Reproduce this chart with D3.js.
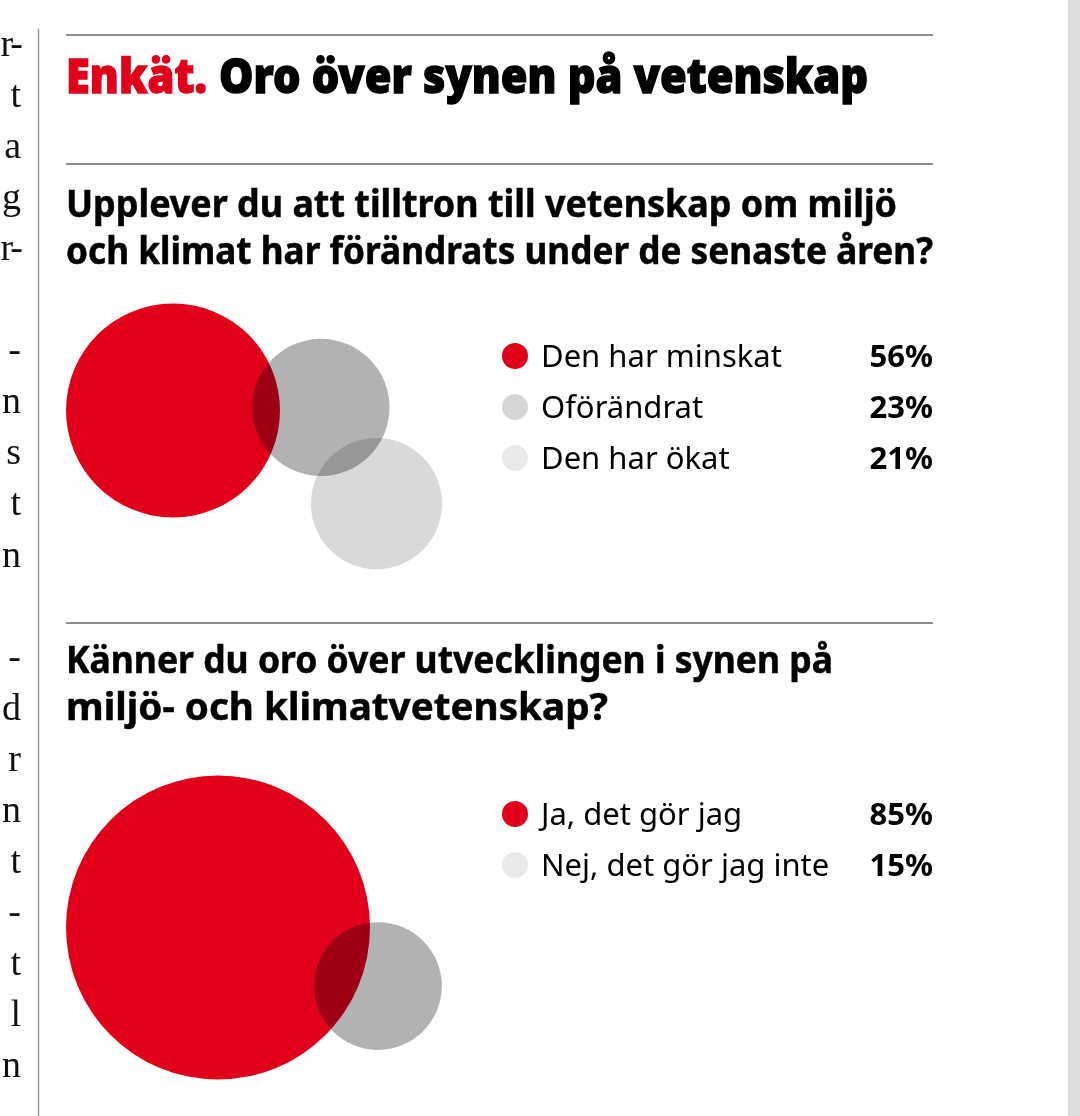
<!DOCTYPE html>
<html>
<head>
<meta charset="utf-8">
<script src="https://cdn.jsdelivr.net/npm/d3@7"></script>
<style>
  html, body { margin: 0; padding: 0; background: #fff; }
  svg { display: block; }
  .bubble { mix-blend-mode: multiply; }
</style>
</head>
<body>
<svg id="chart"></svg>
<script>
// survey data
const q1Labels = ["Den har minskat", "Oförändrat", "Den har ökat"];
const q1Values = [56, 23, 21];
const q1Bubble = ["#e1001a", "#b2b2b2", "#d9d9d9"];
const q1Dots = ["#e1001a", "#d6d6d6", "#e9e9e9"];

const q2Labels = ["Ja, det gör jag", "Nej, det gör jag inte"];
const q2Values = [85, 15];
const q2Bubble = ["#e1001a", "#b2b2b2"];
const q2Dots = ["#e1001a", "#e9e9e9"];

const titleRed = "Enkät.";
const titleBlack = "Oro över synen på vetenskap";
const q1Text = ["Upplever du att tilltron till vetenskap om miljö",
                "och klimat har förändrats under de senaste åren?"];
const q2Text = ["Känner du oro över utvecklingen i synen på",
                "miljö- och klimatvetenskap?"];

// cut-off end of the neighbouring text column
const sideLines = ["r-", "t", "a", "g", "r-", "", "-", "n", "s", "t", "n",
                   "", "-", "d", "r", "n", "t", "-", "t", "l", "n"];

const W = 1080, H = 1116;
const left = 66, right = 933;
const RED = "#e1001a";
const SANS = "'Noto Sans', 'Open Sans', sans-serif";

const svg = d3.select("#chart").attr("width", W).attr("height", H);

svg.append("rect").attr("width", W).attr("height", H).attr("fill", "#fff");

// right grey strip and left column divider
svg.append("rect").attr("x", 1068).attr("y", 0).attr("width", 12).attr("height", H).attr("fill", "#dddddd");
svg.append("line").attr("x1", 38.5).attr("x2", 38.5).attr("y1", 29).attr("y2", H)
  .attr("stroke", "#9c9c9c").attr("stroke-width", 1.5);

svg.append("g").selectAll("text").data(sideLines).enter().append("text")
  .attr("x", 21).attr("y", (d, i) => 56 + i * 51.05)
  .attr("text-anchor", "end")
  .style("font-family", "'Liberation Serif', 'DejaVu Serif', serif")
  .style("font-size", "38px")
  .style("letter-spacing", d => d.length > 1 ? "-2px" : "0px")
  .attr("fill", "#111")
  .text(d => d);

// horizontal rules
[35, 164, 623].forEach(y => {
  svg.append("line").attr("x1", left).attr("x2", right).attr("y1", y).attr("y2", y)
    .attr("stroke", "#8c8c8c").attr("stroke-width", 2);
});

function fitText(sel, w) {
  return sel.attr("textLength", w).attr("lengthAdjust", "spacingAndGlyphs");
}

// headline (heavy weight: bold plus a thin outline)
fitText(svg.append("text").attr("x", left).attr("y", 93)
  .style("font-family", SANS).style("font-weight", 900).style("font-size", "48px")
  .attr("fill", RED).attr("stroke", RED).attr("stroke-width", 1.4).text(titleRed), 141);
fitText(svg.append("text").attr("x", 219).attr("y", 93)
  .style("font-family", SANS).style("font-weight", 900).style("font-size", "48px")
  .attr("fill", "#000").attr("stroke", "#000").attr("stroke-width", 1.4).text(titleBlack), 649);

function question(lines, ys, widths) {
  lines.forEach((t, i) => {
    fitText(svg.append("text").attr("x", left).attr("y", ys[i])
      .style("font-family", SANS).style("font-weight", 700).style("font-size", "37px")
      .attr("fill", "#000").attr("stroke", "#000").attr("stroke-width", 0.5).text(t), widths[i]);
  });
}
question(q1Text, [217, 264], [831, 867]);
question(q2Text, [673, 720], [767, 542]);

// bubbles: sqrt scale per chart, each bubble placed next to the previous one
function bubbles(values, colors, rMax, cx0, cy0, angles, overlaps) {
  const r = d3.scaleSqrt().domain([0, d3.max(values)]).range([0, rMax]);
  const nodes = [];
  values.forEach((v, i) => {
    const rad = r(v);
    if (i === 0) {
      nodes.push({ x: cx0, y: cy0, r: rad, c: colors[i] });
    } else {
      const p = nodes[i - 1];
      const dist = p.r + rad - overlaps[i];
      const a = angles[i] * Math.PI / 180;
      nodes.push({ x: p.x + dist * Math.cos(a), y: p.y + dist * Math.sin(a), r: rad, c: colors[i] });
    }
  });
  const g = svg.append("g").style("isolation", "isolate");
  g.selectAll("circle").data(nodes).enter().append("circle")
    .attr("class", "bubble")
    .attr("cx", d => d.x).attr("cy", d => d.y).attr("r", d => d.r)
    .attr("fill", d => d.c);
}
bubbles(q1Values, q1Bubble, 107, left + 107, 410.5, [0, -1.2, 60], [0, 27.6, 23]);
bubbles(q2Values, q2Bubble, 152, left + 152, 927.5, [0, 20.1], [0, 45.5]);

// legends
function legend(labels, values, dots, y0) {
  const y = d3.scalePoint().domain(labels).range([y0, y0 + 51 * (labels.length - 1)]);
  const g = svg.append("g");
  const rows = g.selectAll("g").data(labels).enter().append("g")
    .attr("transform", d => `translate(0,${y(d)})`);
  rows.append("circle").attr("cx", 515).attr("cy", 0).attr("r", 13)
    .attr("fill", (d, i) => dots[i]);
  rows.append("text").attr("x", 541).attr("y", 11)
    .style("font-family", SANS).style("font-size", "31px")
    .attr("fill", "#000").text(d => d);
  rows.append("text").attr("x", right).attr("y", 11).attr("text-anchor", "end")
    .style("font-family", SANS).style("font-weight", 700).style("font-size", "31px")
    .attr("fill", "#000").text((d, i) => values[i] + "%");
}
legend(q1Labels, q1Values, q1Dots, 356);
legend(q2Labels, q2Values, q2Dots, 814);
</script>
</body>
</html>
